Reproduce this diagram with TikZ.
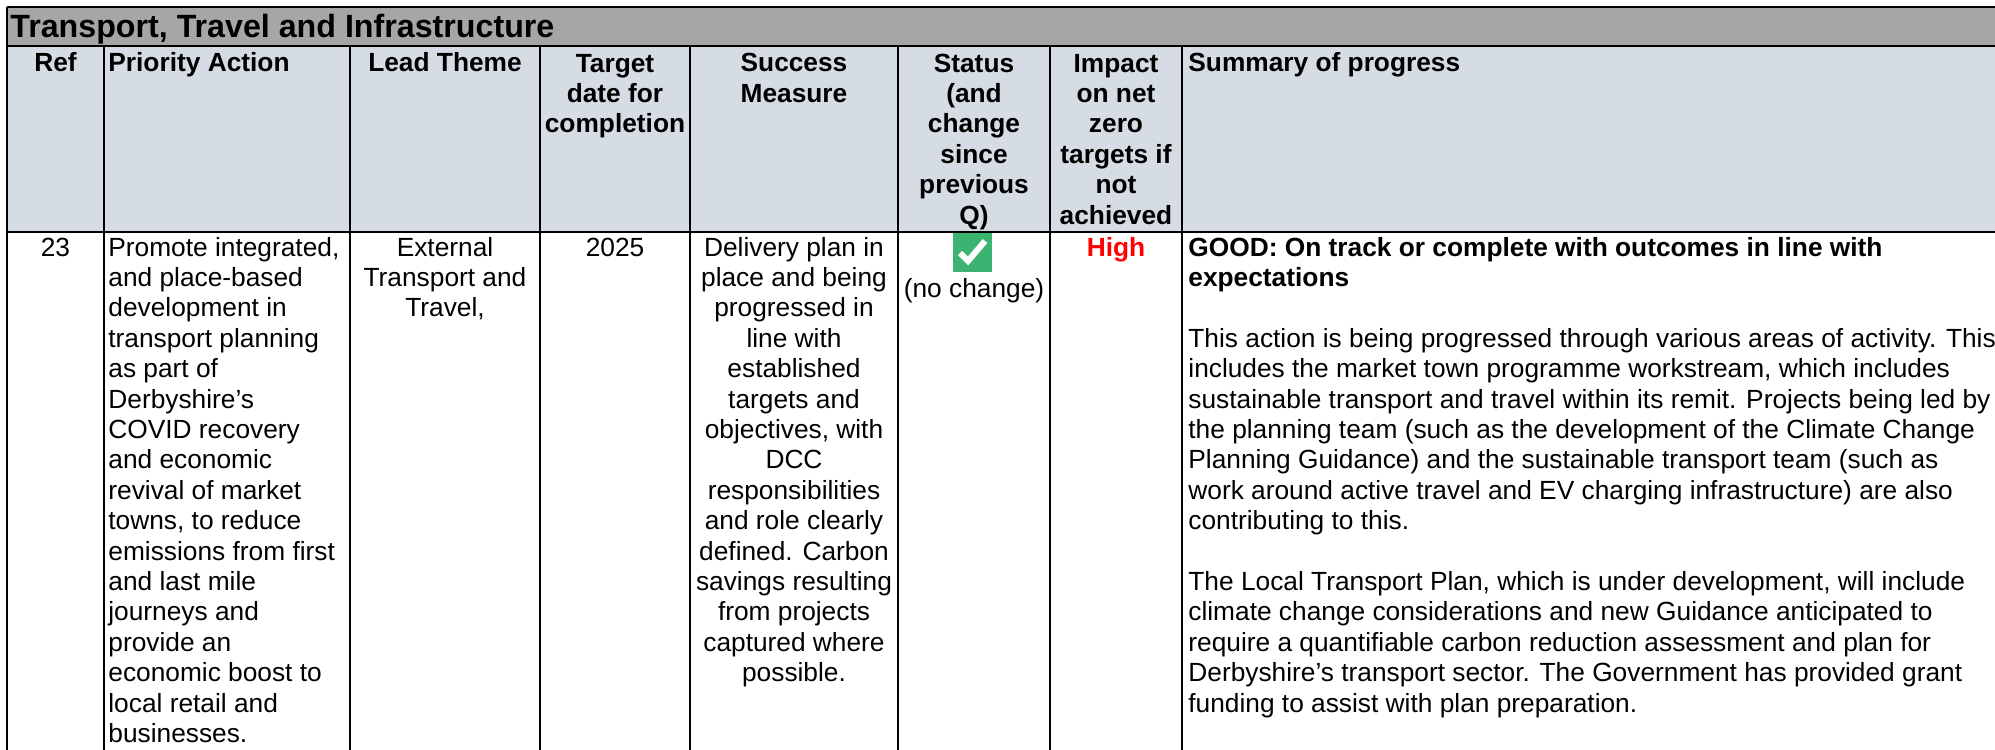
\documentclass[tikz,border=0pt]{standalone}
\usepackage{fontspec}
\setmainfont{Liberation Sans}
\usepackage{xcolor}
\usepackage{tikz}
\usetikzlibrary{positioning}
\definecolor{bargray}{RGB}{166,166,166}
\definecolor{headblue}{RGB}{214,220,228}
\definecolor{statusgreen}{RGB}{60,179,113}
\definecolor{highred}{RGB}{255,0,0}

\begin{document}
\begin{tikzpicture}[
    x=0.5pt, y=-0.5pt,
    rule/.style={draw=black, line width=1pt},
    bar/.style={font=\fontsize{16.1pt}{19pt}\selectfont\bfseries, anchor=base west, inner sep=0pt},
    head/.style={font=\fontsize{13.15pt}{15.2pt}\selectfont\bfseries, align=center, anchor=base, inner sep=0pt},
    headleft/.style={head, align=left, anchor=base west},
    cell/.style={font=\fontsize{13.15pt}{15.2pt}\selectfont, align=center, anchor=base, inner sep=0pt},
    cellleft/.style={cell, align=left, anchor=base west},
    tick/.style={fill=statusgreen, minimum size=19.5pt, inner sep=0pt}
]

\path[use as bounding box] (0,0) rectangle (1995,749);
\clip (0,0) rectangle (1995,749);

% table background and rules
\fill[bargray] (7,7) rectangle (2010,46);
\fill[headblue] (7,46) rectangle (2010,232);
\draw[rule] (7,7) -- (2010,7);
\draw[rule] (7,46) -- (2010,46);
\draw[rule] (7,232) -- (2010,232);
\draw[rule] (7,7) -- (7,760);
\foreach \x in {104,350,540,690,898,1050,1182}
    \draw[rule] (\x,46) -- (\x,760);

\node[bar] (title) at (10,38) {Transport, Travel and Infrastructure};

% header row (a node's base is its last line)
\node[head] (hRef) at (55.5,72) {Ref};
\node[headleft] (hAction) at (108,72) {Priority Action};
\node[head] (hTheme) at (445,72) {Lead Theme};
\node[head] (hDate) at (615,132.8) {Target\\date for\\completion};
\node[head] (hMeasure) at (794,102.4) {Success\\Measure};
\node[head] (hStatus) at (974,224) {Status\\(and\\change\\since\\previous\\Q)};
\node[head] (hImpact) at (1116,224) {Impact\\on net\\zero\\targets if\\not\\achieved};
\node[headleft] (hSummary) at (1188,72) {Summary of progress};

% data row
\node[cell] (cRef) at (55.5,256) {23};
\node[cellleft] (cAction) at (108,742.4) {Promote integrated,\\and place-based\\development in\\transport planning\\as part of\\Derbyshire’s\\COVID recovery\\and economic\\revival of market\\towns, to reduce\\emissions from first\\and last mile\\journeys and\\provide an\\economic boost to\\local retail and\\businesses.};
\node[cell] (cTheme) at (445,316.8) {External\\Transport and\\Travel,};
\node[cell] (cDate) at (615,256) {2025};
\node[cell] (cMeasure) at (794,681.6) {Delivery plan in\\place and being\\progressed in\\line with\\established\\targets and\\objectives, with\\DCC\\responsibilities\\and role clearly\\defined. Carbon\\savings resulting\\from projects\\captured where\\possible.};
\node[tick] (tick) at (972,252) {};
\draw[white, line width=3pt] (tick.center) ++(-12,1) -- ++(8,8) -- ++(17,-20);
\node[cell] (cStatus) at (974,297) {(no change)};
\node[cell, font=\fontsize{13.15pt}{15.2pt}\selectfont\bfseries, text=highred] (cImpact) at (1116,256) {High};
\node[cellleft] (cSummary) at (1188,712) {\textbf{GOOD: On track or complete with outcomes in line with}\\
  \textbf{expectations}\\[15.2pt]
  This action is being progressed through various areas of activity. This\\
  includes the market town programme workstream, which includes\\
  sustainable transport and travel within its remit. Projects being led by\\
  the planning team (such as the development of the Climate Change\\
  Planning Guidance) and the sustainable transport team (such as\\
  work around active travel and EV charging infrastructure) are also\\
  contributing to this.\\[15.2pt]
  The Local Transport Plan, which is under development, will include\\
  climate change considerations and new Guidance anticipated to\\
  require a quantifiable carbon reduction assessment and plan for\\
  Derbyshire’s transport sector. The Government has provided grant\\
  funding to assist with plan preparation.};

\end{tikzpicture}
\end{document}
